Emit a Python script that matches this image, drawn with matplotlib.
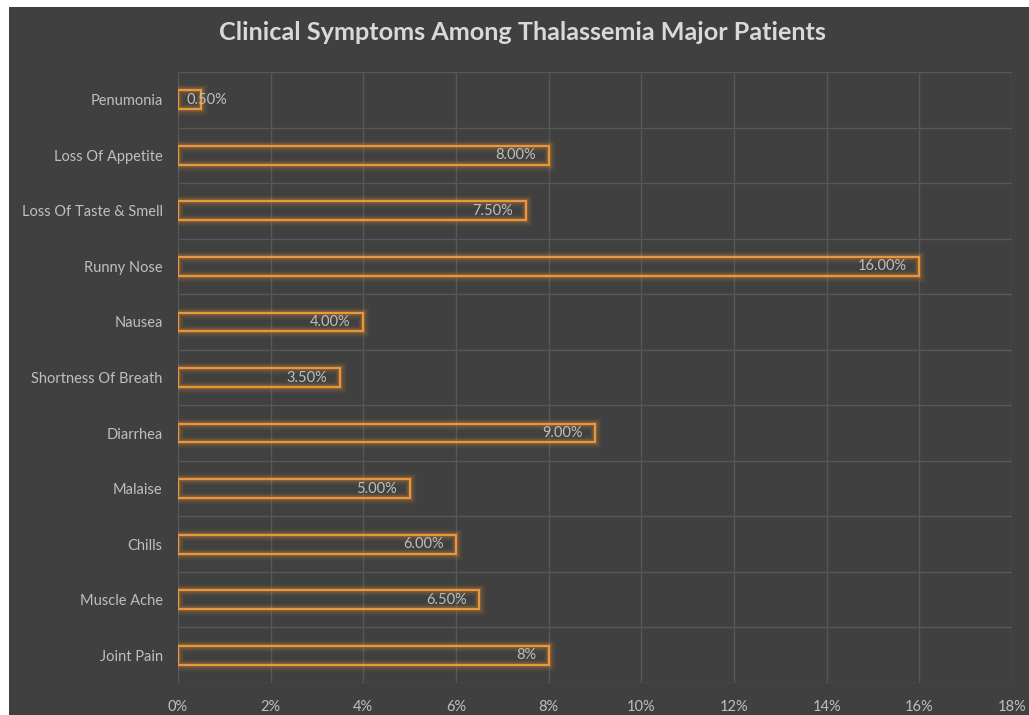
import numpy as np
import matplotlib
matplotlib.use('Agg')
from matplotlib import pyplot as plt
from matplotlib.patches import Rectangle
from matplotlib.ticker import FuncFormatter, MultipleLocator

# data (top to bottom)
symptoms = ['Penumonia', 'Loss Of Appetite', 'Loss Of Taste & Smell', 'Runny Nose',
            'Nausea', 'Shortness Of Breath', 'Diarrhea', 'Malaise', 'Chills',
            'Muscle Ache', 'Joint Pain']
values = [0.5, 8.0, 7.5, 16.0, 4.0, 3.5, 9.0, 5.0, 6.0, 6.5, 8.0]
value_labels = ['0.50%', '8.00%', '7.50%', '16.00%', '4.00%', '3.50%', '9.00%',
                '5.00%', '6.00%', '6.50%', '8%']

bg = '#404040'
grid_c = '#575757'
txt_c = '#bfbfbf'
orange = '#f0973a'

plt.rcParams['font.family'] = ['Lato', 'DejaVu Sans']

fig = plt.figure(figsize=(10.29, 7.15), dpi=100, facecolor='white')
W, H = 1029, 715
# dark chart area with small white margin on top/left
fig.patches.append(Rectangle((9 / W, 0), 1 - 9 / W, 1 - 7 / H, transform=fig.transFigure,
                             facecolor=bg, edgecolor='none', zorder=-10))

ax = fig.add_axes([178 / W, (715 - 683) / H, (1012 - 178) / W, (683 - 72) / H])
ax.set_facecolor(bg)

y = np.arange(len(symptoms))
h = 0.34

# glow
for lw, a in [(9, 0.05), (6.5, 0.08), (4.5, 0.12), (3, 0.18)]:
    ax.barh(y, values, height=h, color='none', edgecolor=orange, linewidth=lw, alpha=a, zorder=2)
ax.barh(y, values, height=h, color='none', edgecolor=orange, linewidth=1.4, zorder=3)

for yi, v, lab in zip(y, values, value_labels):
    if v < 1:
        ax.annotate(lab, (0, yi), xytext=(6, 0), textcoords='offset points',
                    ha='left', va='center', color=txt_c, fontsize=10.5, zorder=4)
    else:
        ax.annotate(lab, (v, yi), xytext=(-9, 0), textcoords='offset points',
                    ha='right', va='center', color=txt_c, fontsize=10.5, zorder=4)

ax.set_xlim(0, 18)
ax.set_ylim(len(symptoms) - 0.5, -0.5)
ax.xaxis.set_major_locator(MultipleLocator(2))
ax.xaxis.set_major_formatter(FuncFormatter(lambda x, p: f'{x:.0f}%'))
ax.set_yticks(y)
ax.set_yticklabels(symptoms)
ax.set_yticks(np.arange(len(symptoms) + 1) - 0.5, minor=True)

ax.grid(True, axis='x', which='major', color=grid_c, linewidth=1, zorder=1)
ax.grid(True, axis='y', which='minor', color=grid_c, linewidth=1, zorder=1)
ax.grid(False, axis='y', which='major')
ax.set_axisbelow(True)

ax.tick_params(axis='both', which='both', length=0, colors=txt_c, labelsize=10.5)
ax.tick_params(axis='x', pad=12)
ax.tick_params(axis='y', pad=11)
for s in ax.spines.values():
    s.set_visible(False)

fig.text(522 / W, 1 - 32 / H, 'Clinical Symptoms Among Thalassemia Major Patients',
         ha='center', va='center', fontsize=18.2, fontweight='bold', color='#d9d9d9')

fig.savefig('out.png', dpi=100, facecolor='white')
